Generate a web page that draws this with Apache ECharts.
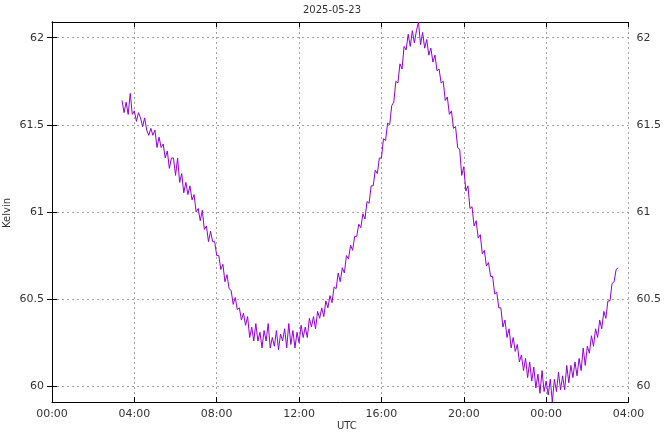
<!DOCTYPE html>
<html>
<head>
<meta charset="utf-8">
<script src="https://cdn.jsdelivr.net/npm/echarts@6/dist/echarts.min.js"></script>
<style>html,body{margin:0;padding:0;background:#fff}#c{width:664px;height:432px}</style>
</head>
<body>
<div id="c"></div>
<script>
const title = '2025-05-23';
const xName = 'UTC';
const yName = 'Kelvin';
// sample times in hours since 2025-05-23 00:00 UTC (6-minute steps)
const startHour = 3.4;
const stepHour = 0.1;
const kelvin = [
61.64,61.57,61.63,61.56,61.68,61.56,61.58,61.52,61.57,61.54,
61.49,61.54,61.47,61.44,61.48,61.44,61.47,61.37,61.43,61.37,
61.39,61.31,61.35,61.25,61.31,61.31,61.21,61.31,61.17,61.22,
61.11,61.17,61.10,61.15,61.07,61.10,61.00,61.02,60.95,61.01,
60.90,60.92,60.83,60.89,60.83,60.83,60.75,60.75,60.67,60.70,
60.60,60.64,60.56,60.55,60.47,60.51,60.44,60.45,60.38,60.42,
60.35,60.40,60.28,60.34,60.26,60.36,60.26,60.31,60.22,60.32,
60.26,60.36,60.22,60.28,60.23,60.32,60.21,60.30,60.26,60.33,
60.22,60.36,60.24,60.32,60.22,60.31,60.25,60.35,60.28,60.34,
60.28,60.39,60.34,60.40,60.33,60.43,60.39,60.45,60.40,60.49,
60.45,60.52,60.48,60.57,60.56,60.65,60.60,60.68,60.65,60.75,
60.73,60.81,60.78,60.86,60.86,60.93,60.91,60.99,60.96,61.06,
61.05,61.15,61.15,61.24,61.22,61.31,61.31,61.42,61.41,61.51,
61.50,61.61,61.63,61.75,61.74,61.85,61.82,61.95,61.93,62.02,
61.95,62.04,61.97,62.04,62.09,61.96,62.03,61.94,61.99,61.90,
61.94,61.86,61.90,61.81,61.82,61.74,61.75,61.64,61.66,61.56,
61.58,61.48,61.49,61.37,61.36,61.21,61.26,61.12,61.15,61.02,
61.03,60.92,60.95,60.85,60.87,60.76,60.78,60.69,60.71,60.63,
60.63,60.53,60.54,60.45,60.45,60.34,60.38,60.28,60.33,60.22,
60.28,60.20,60.24,60.14,60.18,60.09,60.16,60.05,60.14,60.03,
60.11,59.99,60.07,59.96,60.09,59.97,60.03,59.95,60.04,59.91,
60.04,59.97,60.08,59.98,60.06,59.98,60.12,60.02,60.12,60.05,
60.14,60.06,60.16,60.09,60.22,60.12,60.23,60.19,60.29,60.23,
60.33,60.28,60.38,60.33,60.43,60.39,60.49,60.49,60.59,60.60,
60.67,60.68
];
const yTicks = [60, 60.5, 61, 61.5, 62];

const data = kelvin.map((v, i) => [startHour + i * stepHour, v]);
const fmtHour = h => String(Math.round(h) % 24).padStart(2, '0') + ':00';
const font = 'DejaVu Sans';
const txt = '#333';
const gridLine = {show: true, lineStyle: {color: '#a0a0a0', type: [2, 3], width: 1}};

const chart = echarts.init(document.getElementById('c'), null, {renderer: 'canvas'});
chart.setOption({
  animation: false,
  backgroundColor: '#fff',
  title: {text: title, left: 'center', top: 0, textStyle: {fontFamily: font, fontSize: 10, fontWeight: 'normal', color: txt}},
  grid: {left: 52, right: 29, top: 22, bottom: 30, containLabel: false},
  xAxis: [
    {type: 'value', min: 0, max: 28, interval: 4, position: 'bottom',
     axisLine: {show: true, lineStyle: {color: '#000', width: 1}},
     axisTick: {show: true, inside: true, length: 5, lineStyle: {color: '#000'}},
     axisLabel: {formatter: fmtHour, fontFamily: font, fontSize: 11, color: txt, margin: 7},
     splitLine: gridLine},
    {type: 'value', min: 0, max: 28, interval: 4, position: 'top',
     axisLine: {show: true, lineStyle: {color: '#000', width: 1}},
     axisTick: {show: true, inside: true, length: 5, lineStyle: {color: '#000'}},
     axisLabel: {show: false}, splitLine: {show: false}}
  ],
  yAxis: [
    {type: 'value', min: 59.91, max: 62.09, position: 'left',
     axisLine: {show: true, lineStyle: {color: '#000', width: 1}},
     axisTick: {show: true, inside: true, length: 5, lineStyle: {color: '#000'}, customValues: yTicks},
     axisLabel: {fontFamily: font, fontSize: 11, color: txt, margin: 8, customValues: yTicks, formatter: v => String(v)},
     splitLine: gridLine},
    {type: 'value', min: 59.91, max: 62.09, position: 'right',
     axisLine: {show: true, lineStyle: {color: '#000', width: 1}},
     axisTick: {show: true, inside: true, length: 5, lineStyle: {color: '#000'}, customValues: yTicks},
     axisLabel: {fontFamily: font, fontSize: 11, color: txt, margin: 8, customValues: yTicks, formatter: v => String(v)},
     splitLine: {show: false}}
  ],
  graphic: [
    {type: 'text', left: 337, top: 421, style: {text: xName, fontFamily: font, fontSize: 10, fill: txt}},
    {type: 'text', x: 2, y: 228, rotation: Math.PI / 2, style: {text: yName, fontFamily: font, fontSize: 10, fill: txt}}
  ],
  series: [{
    type: 'line', xAxisIndex: 0, yAxisIndex: 0, data: data, showSymbol: false,
    lineStyle: {color: '#9400d3', width: 1}, itemStyle: {color: '#9400d3'}
  }]
});
</script>
</body>
</html>
